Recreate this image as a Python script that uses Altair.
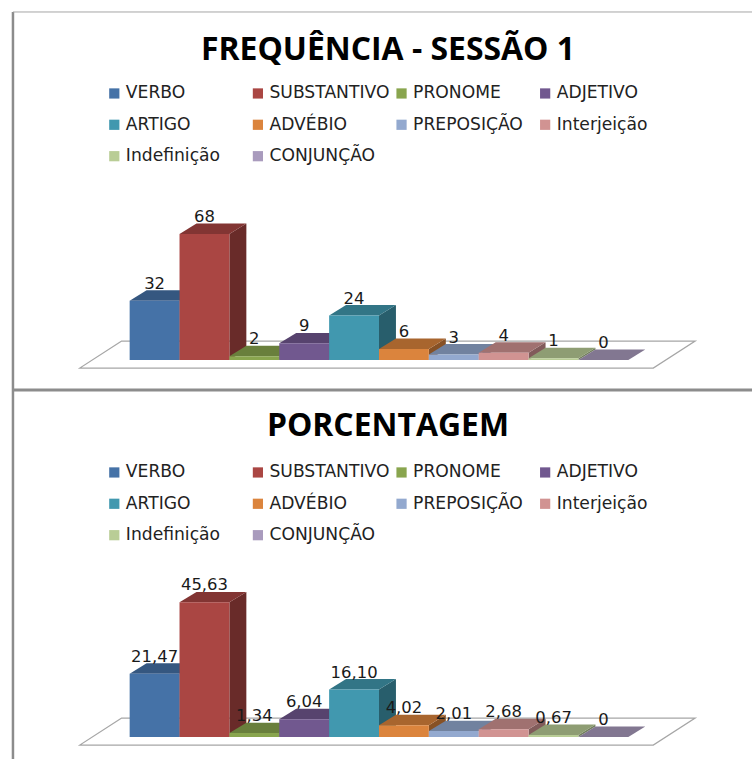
import altair as alt
import pandas as pd

CATEGORIES = ["VERBO", "SUBSTANTIVO", "PRONOME", "ADJETIVO", "ARTIGO", "ADVÉBIO",
              "PREPOSIÇÃO", "Interjeição", "Indefinição", "CONJUNÇÃO"]
FREQUENCY = [32, 68, 2, 9, 24, 6, 3, 4, 1, 0]
FREQUENCY_LABELS = ["32", "68", "2", "9", "24", "6", "3", "4", "1", "0"]
PERCENT = [21.47, 45.63, 1.34, 6.04, 16.10, 4.02, 2.01, 2.68, 0.67, 0]
PERCENT_LABELS = ["21,47", "45,63", "1,34", "6,04", "16,10", "4,02", "2,01", "2,68", "0,67", "0"]
FRONT = ["#4572A7", "#AA4643", "#89A54E", "#71588F", "#4198AF",
         "#DB843D", "#93A9CF", "#D19392", "#B9CD96", "#A99BBD"]

PANEL_W, PANEL_H = 754, 380
BAR_PX = 50          # width of one bar
FIRST_BAR_PX = 130   # left edge of the first bar
DEPTH_X_PX, DEPTH_Y_PX = 17, 10.5
FONT = "DejaVu Sans"


def shade(color, factor):
    rgb = [int(color[i:i + 2], 16) for i in (1, 3, 5)]
    return "#" + "".join(f"{int(c * factor):02X}" for c in rgb)


def panel(title, title_y, values, labels, px_per_unit, baseline_px):
    x_scale = alt.Scale(domain=[-FIRST_BAR_PX / BAR_PX, (PANEL_W - FIRST_BAR_PX) / BAR_PX],
                        range=[0, PANEL_W], nice=False, zero=False)
    y_scale = alt.Scale(domain=[(baseline_px - PANEL_H) / px_per_unit, baseline_px / px_per_unit],
                        range=[PANEL_H, 0], nice=False, zero=False)
    dx = DEPTH_X_PX / BAR_PX
    dy = DEPTH_Y_PX / px_per_unit
    X = lambda f: alt.X(f"{f}:Q", scale=x_scale, axis=None)
    Y = lambda f: alt.Y(f"{f}:Q", scale=y_scale, axis=None)
    color = alt.Color(
        "cat:N",
        sort=CATEGORIES,
        scale=alt.Scale(domain=CATEGORIES, range=FRONT),
        legend=alt.Legend(
            title=None, orient="none", legendX=106, legendY=84, columns=4,
            direction="horizontal", gridAlign="all", columnPadding=3, rowPadding=13.5, padding=0,
            symbolType="square", symbolSize=105, symbolStrokeWidth=0, symbolOpacity=1,
            labelFont=FONT, labelFontSize=17.2, labelColor="#222222",
            labelOffset=3, labelLimit=140,
        ),
    )

    # Floor of the 3D plot, a parallelogram behind every bar
    floor = alt.Chart(pd.DataFrame({
        "x": [-1.0, -0.16], "x2": [10.5, 11.34],
        "y": [-8 / px_per_unit, 19 / px_per_unit],
    })).mark_area(orient="horizontal", fill="white", stroke="#a6a6a6", strokeWidth=1.2).encode(
        y=Y("y"), x=X("x"), x2=alt.X2("x2"))

    layers = [floor]
    for i, (cat, v, c) in enumerate(zip(CATEGORIES, values, FRONT)):
        side = alt.Chart(pd.DataFrame({
            "x": [i + 1, i + 1 + dx], "y": [v, v + dy], "y2": [0, dy],
        })).mark_area(color=shade(c, 0.62)).encode(x=X("x"), y=Y("y"), y2=alt.Y2("y2"))
        top = alt.Chart(pd.DataFrame({
            "y": [v, v + dy], "x": [i, i + dx], "x2": [i + 1, i + 1 + dx],
        })).mark_area(orient="horizontal", color=shade(c, 0.77)).encode(
            y=Y("y"), x=X("x"), x2=alt.X2("x2"))
        front = alt.Chart(pd.DataFrame({
            "cat": [cat], "x": [i], "x2": [i + 1], "y": [v], "y2": [0],
        })).mark_rect().encode(x=X("x"), x2=alt.X2("x2"), y=Y("y"), y2=alt.Y2("y2"), color=color)
        layers += [side, top, front]

    value_labels = alt.Chart(pd.DataFrame({
        "x": [i + 0.5 for i in range(len(values))], "y": values, "label": labels,
    })).mark_text(font=FONT, fontSize=16.5, baseline="alphabetic", dy=-12, color="#1a1a1a").encode(
        x=X("x"), y=Y("y"), text="label:N")

    heading = alt.Chart(pd.DataFrame({"t": [title]})).mark_text(
        font="Open Sans", fontSize=32, fontWeight="bold", color="black", baseline="alphabetic"
    ).encode(x=alt.value(389), y=alt.value(title_y), text="t:N")

    return alt.layer(*layers, value_labels, heading).properties(width=PANEL_W, height=PANEL_H)


def frame_rule(**channels):
    return alt.Chart(pd.DataFrame({"a": [0]})).mark_rule(
        color=channels.pop("rule_color"), strokeWidth=channels.pop("rule_width")
    ).encode(**channels)


top_frame = (
    frame_rule(rule_color="#8c8c8c", rule_width=2.5, x=alt.value(13), y=alt.value(11), y2=alt.value(PANEL_H))
    + frame_rule(rule_color="#a6a6a6", rule_width=1, x=alt.value(13), x2=alt.value(PANEL_W), y=alt.value(11))
)
bottom_frame = (
    frame_rule(rule_color="#8c8c8c", rule_width=2.5, x=alt.value(13), y=alt.value(0), y2=alt.value(PANEL_H))
    + frame_rule(rule_color="#8c8c8c", rule_width=3, x=alt.value(13), x2=alt.value(PANEL_W), y=alt.value(10))
)

upper = alt.layer(top_frame, panel("FREQUÊNCIA - SESSÃO 1", 59, FREQUENCY, FREQUENCY_LABELS, 1.86, 360))
lower = alt.layer(bottom_frame, panel("PORCENTAGEM", 56, PERCENT, PERCENT_LABELS, 2.96, 358))

chart = (
    alt.vconcat(upper, lower, spacing=0, bounds="flush")
    .resolve_scale(color="independent")
    .properties(padding=0, background="white")
    .configure_view(stroke=None)
)
chart.save("out.html", embed_options={"renderer": "svg", "actions": False})
